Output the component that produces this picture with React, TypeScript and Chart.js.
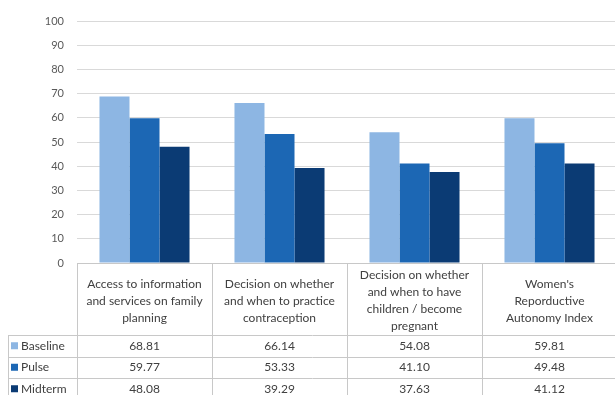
import React, { useEffect, useRef } from "react";
import { Chart, registerables } from "chart.js";

Chart.register(...registerables);

const categories: string[][] = [
  ["Access to information", "and services on family", "planning"],
  ["Decision on whether", "and when to practice", "contraception"],
  ["Decision on whether", "and when to have", "children / become", "pregnant"],
  ["Women's", "Reporductive", "Autonomy Index"],
];
const seriesNames = ["Baseline", "Pulse", "Midterm"];
const baseline = [68.81, 66.14, 54.08, 59.81];
const pulse = [59.77, 53.33, 41.1, 49.48];
const midterm = [48.08, 39.29, 37.63, 41.12];
const seriesValues = [baseline, pulse, midterm];
const colors = ["#8DB6E3", "#1C67B4", "#0B3B74"];
const yTicks = [0, 10, 20, 30, 40, 50, 60, 70, 80, 90, 100];

const FONT = "Lato, 'Open Sans', sans-serif";

const tablePlugin = {
  id: "dataTable",
  afterDraw(chart: any) {
    const ctx = chart.ctx;
    const x = chart.scales.x;
    const area = chart.chartArea;
    const top = area.bottom;
    const headerBottom = top + 72;
    const rowH = 21.5;
    const leftEdge = 8;
    const n = categories.length;
    const half = (x.getPixelForValue(1) - x.getPixelForValue(0)) / 2;
    const bounds: number[] = [];
    for (let i = 0; i < n; i++) bounds.push(x.getPixelForValue(i) - half);
    bounds.push(x.getPixelForValue(n - 1) + half);
    ctx.save();
    ctx.strokeStyle = "#c8c8c8";
    ctx.lineWidth = 1;
    ctx.beginPath();
    ctx.moveTo(bounds[0], Math.round(top) + 0.5);
    ctx.lineTo(bounds[n], Math.round(top) + 0.5);
    ctx.stroke();
    for (let i = 0; i <= n; i++) {
      const bx = Math.round(bounds[i]) + 0.5;
      ctx.beginPath();
      ctx.moveTo(bx, top);
      ctx.lineTo(bx, chart.height);
      ctx.stroke();
    }
    ctx.beginPath();
    ctx.moveTo(leftEdge + 0.5, headerBottom);
    ctx.lineTo(leftEdge + 0.5, chart.height);
    ctx.stroke();
    for (let r = 0; r < 3; r++) {
      const y = Math.round(headerBottom + r * rowH) + 0.5;
      ctx.beginPath();
      ctx.moveTo(leftEdge, y);
      ctx.lineTo(bounds[n], y);
      ctx.stroke();
    }
    ctx.fillStyle = "#404040";
    ctx.font = "12px " + FONT;
    ctx.textAlign = "center";
    ctx.textBaseline = "middle";
    const lh = 17;
    const headerMid = (top + headerBottom) / 2 + 2;
    categories.forEach((lines, i) => {
      const cx = (bounds[i] + bounds[i + 1]) / 2;
      const startY = headerMid - ((lines.length - 1) * lh) / 2;
      lines.forEach((t, j) => ctx.fillText(t, cx, startY + j * lh));
    });
    seriesValues.forEach((vals, r) => {
      const cy = headerBottom + r * rowH + rowH / 2;
      vals.forEach((v, i) => {
        const cx = (bounds[i] + bounds[i + 1]) / 2;
        ctx.fillText(v.toFixed(2), cx, cy);
      });
      ctx.fillStyle = colors[r];
      ctx.fillRect(leftEdge + 3, cy - 3.5, 7, 7);
      ctx.fillStyle = "#404040";
      ctx.textAlign = "left";
      ctx.fillText(seriesNames[r], leftEdge + 13, cy);
      ctx.textAlign = "center";
    });
    ctx.restore();
  },
};

export default function App() {
  const ref = useRef<HTMLCanvasElement>(null);
  useEffect(() => {
    if (!ref.current) return;
    const chart = new Chart(ref.current, {
      type: "bar",
      data: {
        labels: categories.map((c) => c.join(" ")),
        datasets: seriesNames.map((name, i) => ({
          label: name,
          data: seriesValues[i],
          backgroundColor: colors[i],
          borderWidth: 0,
          categoryPercentage: 0.667,
          barPercentage: 1,
        })),
      },
      options: {
        animation: false,
        responsive: false,
        maintainAspectRatio: false,
        layout: { padding: { top: 21, bottom: 132, right: 3, left: 0 } },
        plugins: {
          legend: { display: false },
          tooltip: { enabled: false },
          title: { display: false },
        },
        scales: {
          x: { display: false },
          y: {
            min: 0,
            max: 100,
            afterBuildTicks: (s: any) => {
              s.ticks = yTicks.map((v) => ({ value: v }));
            },
            afterFit: (s: any) => {
              s.width = 77;
            },
            border: { display: false },
            grid: { color: "#d9d9d9", drawTicks: false, lineWidth: 1 },
            ticks: {
              color: "#595959",
              padding: 13,
              font: { family: FONT, size: 11 },
            },
          },
        },
      },
      plugins: [tablePlugin],
    });
    return () => chart.destroy();
  }, []);
  return (
    <div
      style={{
        position: "fixed",
        left: 0,
        top: 0,
        width: 615,
        height: 395,
        overflow: "hidden",
        background: "#fff",
      }}
    >
      <canvas ref={ref} width={620} height={395} style={{ width: 620, height: 395 }} />
    </div>
  );
}
